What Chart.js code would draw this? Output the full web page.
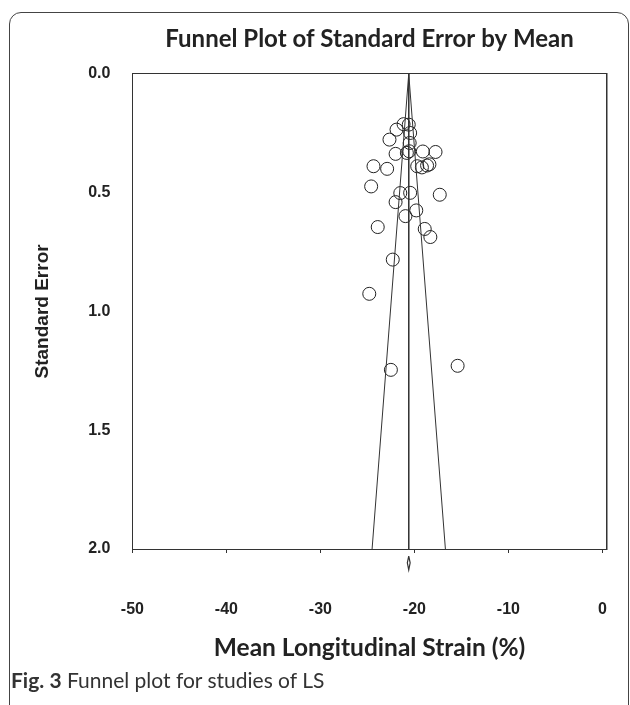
<!DOCTYPE html>
<html>
<head>
<meta charset="utf-8">
<script src="https://cdn.jsdelivr.net/npm/chart.js@4/dist/chart.umd.min.js"></script>
<style>
  body { margin: 0; background: #fff; }
  #wrap { position: relative; width: 630px; height: 705px; overflow: hidden; }
  #frame { position: absolute; left: 9px; top: 12px; width: 620px; height: 720px;
           border: 1.5px solid #444; border-radius: 12px; box-sizing: border-box; }
  #chart { position: absolute; left: 0; top: 0; }
  #caption { position: absolute; left: 11px; top: 667px; font-family: Lato, "Open Sans", sans-serif;
             font-size: 21px; color: #333; white-space: nowrap; }
</style>
</head>
<body>
<div id="wrap">
  <div id="frame"></div>
  <canvas id="chart" width="630" height="705"></canvas>
  <div id="caption"><b>Fig. 3</b> Funnel plot for studies of LS</div>
</div>
<script>
// estudos: média (x) e erro padrão (y)
const meanStrain = [-21.9, -21.15, -20.6, -20.45, -22.65, -20.5, -20.55, -22.0, -19.1, -17.75,
  -20.8, -24.35, -22.9, -19.7, -19.2, -18.65, -18.4, -24.6, -21.5, -20.45,
  -17.3, -22.0, -19.8, -20.95, -23.9, -18.9, -18.3, -22.3, -24.8, -22.5, -15.4];
const stdError = [0.235, 0.212, 0.214, 0.249, 0.277, 0.291, 0.326, 0.337, 0.327, 0.329,
  0.333, 0.389, 0.400, 0.389, 0.394, 0.386, 0.381, 0.474, 0.502, 0.501,
  0.509, 0.540, 0.575, 0.599, 0.645, 0.653, 0.687, 0.782, 0.926, 1.246, 1.229];

// linha da média e funil
const meanLineX = [-20.6, -20.6];
const meanLineY = [0, 2];
const funnelX = [-24.5, -20.6, -16.7];
const funnelY = [2, 0, 2];
// losango do efeito combinado (abaixo do eixo)
const diamondX = [-20.6, -20.45, -20.6, -20.75, -20.6];
const diamondY = [2.03, 2.058, 2.088, 2.058, 2.03];

const xTicks = [-50, -40, -30, -20, -10, 0];
const yTicks = [0, 0.5, 1, 1.5, 2];

function pares(xs, ys) {
  return xs.map((x, i) => ({x: x, y: ys[i]}));
}

const tickFont = {family: '"Liberation Sans", Arial, sans-serif', size: 16, weight: 'bold'};
const linha = '#333';

graficoFunil();
function graficoFunil() {
  let ctx = document.getElementById("chart").getContext("2d");
  new Chart(ctx, {
    type: 'scatter',
    data: {
      datasets: [
        {data: pares(meanLineX, meanLineY), showLine: true, pointRadius: 0, borderColor: linha, borderWidth: 1},
        {data: pares(funnelX, funnelY), showLine: true, pointRadius: 0, borderColor: linha, borderWidth: 1},
        {data: pares(diamondX, diamondY), showLine: true, pointRadius: 0, borderColor: linha, borderWidth: 1.2, clip: false},
        {data: pares(meanStrain, stdError), pointRadius: 6.5, pointStyle: 'circle',
         borderColor: '#222', backgroundColor: 'rgba(0,0,0,0)', borderWidth: 1, pointHoverRadius: 6.5}
      ]
    },
    options: {
      responsive: false,
      animation: false,
      layout: {padding: {left: 0, right: 23.3, top: 0, bottom: 0}},
      plugins: {
        legend: {display: false},
        tooltip: {enabled: false},
        title: {
          display: true, fullSize: false,
          text: 'Funnel Plot of Standard Error by Mean',
          color: '#222',
          font: {family: 'Lato, "Open Sans", sans-serif', size: 24, weight: 'bold'},
          padding: {top: 25, bottom: 20}
        }
      },
      scales: {
        x: {
          type: 'linear', position: 'bottom', min: -50, max: 0.46,
          afterBuildTicks: s => { s.ticks = xTicks.map(v => ({value: v})); },
          // altura fixa e sem padding lateral extra (o padding dos ticks empurrava a área)
          afterFit: s => { s.height = 705 - 549; s.paddingLeft = 0; s.paddingRight = 0; },
          ticks: {font: tickFont, color: '#222', padding: 47, callback: v => v},
          grid: {drawOnChartArea: false, drawTicks: true, tickLength: 4, tickColor: linha},
          border: {color: linha, width: 1},
          title: {
            display: true, text: 'Mean Longitudinal Strain (%)', color: '#222',
            font: {family: 'Lato, "Open Sans", sans-serif', size: 24.5, weight: 'bold'},
            padding: {top: 0, bottom: 42}
          }
        },
        x2: {
          type: 'linear', position: 'top', min: -50, max: 0.46,
          afterFit: s => { s.height = 0; },
          ticks: {display: false}, grid: {display: false},
          border: {color: linha, width: 1}
        },
        y: {
          type: 'linear', position: 'left', min: 0, max: 2, reverse: true,
          afterBuildTicks: s => { s.ticks = yTicks.map(v => ({value: v})); },
          afterFit: s => { s.width = 132.4; },
          ticks: {font: tickFont, color: '#222', padding: 14, callback: v => Number(v).toFixed(1)},
          grid: {display: false},
          border: {color: linha, width: 1},
          title: {
            display: true, text: 'Standard Error', color: '#222',
            font: {family: '"Liberation Sans", Arial, sans-serif', size: 19, weight: 'bold'},
            padding: {top: 31, bottom: 0}
          }
        },
        y2: {
          type: 'linear', position: 'right', min: 0, max: 2,
          afterFit: s => { s.width = 0; },
          ticks: {display: false}, grid: {display: false},
          border: {color: linha, width: 1.5}
        }
      }
    }
  });
}
</script>
</body>
</html>
